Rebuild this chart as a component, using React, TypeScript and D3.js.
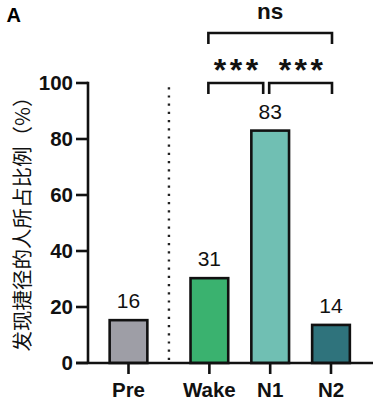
import React from "react";
import * as d3 from "d3";

const categories = ["Pre", "Wake", "N1", "N2"];
const positions = [0, 1.33, 2.33, 3.33];
const values = [15.3, 30.3, 83, 13.6];
const valueLabels = ["16", "31", "83", "14"];
const colors = ["#9e9ea6", "#3ab26f", "#70bfb3", "#2f737c"];
const yTicks = [0, 20, 40, 60, 80, 100];
const comparisons = [
  { from: 1, to: 3, label: "ns", level: 1 },
  { from: 1, to: 2, label: "***", level: 0 },
  { from: 2, to: 3, label: "***", level: 0 },
];
const yTitle = "发现捷径的人所占比例（%）";

const W = 378;
const H = 408;
const LATIN = "'Liberation Sans', Arial, Helvetica, sans-serif";

export default function App() {
  const y = d3.scaleLinear().domain([0, 100]).range([363, 83]);
  const x = d3.scaleLinear().domain([0, 3.33]).range([128.5, 331]);
  const unit = x(1) - x(0);
  const bw = unit * 0.62;
  const axisX = 88;
  const baseY = y(0);
  const sep = x((positions[0] + positions[1]) / 2);

  return (
    <svg width={W} height={H} style={{ position: "absolute", left: 0, top: 0, background: "#fff" }}>
      <text x={6.5} y={22} fontFamily={LATIN} fontWeight="bold" fontSize={20}>A</text>

      {/* y title */}
      <text
        transform={`translate(30,${(y(0) + y(100)) / 2 - 4}) rotate(-90)`}
        textAnchor="middle"
        fontFamily="'Noto Sans CJK SC', sans-serif"
        fontSize={20.5}
        fill="#111"
      >
        {yTitle}
      </text>

      {/* dotted separator */}
      <line x1={sep} x2={sep} y1={baseY - 3} y2={y(100)} stroke="#222" strokeWidth={2.4} strokeDasharray="2.2 6" />

      {/* bars */}
      {categories.map((c, i) => (
        <g key={c}>
          <rect
            x={x(positions[i]) - bw / 2}
            y={y(values[i])}
            width={bw}
            height={baseY - y(values[i])}
            fill={colors[i]}
            stroke="#111"
            strokeWidth={2.6}
          />
          <text
            x={x(positions[i])}
            y={y(values[i]) - 12}
            textAnchor="middle"
            fontFamily={LATIN}
            fontSize={21}
            fill="#111"
          >
            {valueLabels[i]}
          </text>
          <line x1={x(positions[i])} x2={x(positions[i])} y1={baseY} y2={baseY + 11} stroke="#111" strokeWidth={2.6} />
          <text
            x={x(positions[i])}
            y={397}
            textAnchor="middle"
            fontFamily={LATIN}
            fontWeight="bold"
            fontSize={20.5}
            fill="#111"
          >
            {c}
          </text>
        </g>
      ))}

      {/* y axis */}
      <line x1={axisX} x2={axisX} y1={y(100) - 1.3} y2={baseY} stroke="#111" strokeWidth={2.6} />
      {yTicks.map((t) => (
        <g key={t}>
          <line x1={axisX - 12} x2={axisX} y1={y(t)} y2={y(t)} stroke="#111" strokeWidth={2.6} />
          <text
            x={axisX - 15}
            y={y(t)}
            dy="0.36em"
            textAnchor="end"
            fontFamily={LATIN}
            fontWeight="bold"
            fontSize={20.5}
            fill="#111"
          >
            {t}
          </text>
        </g>
      ))}
      {/* x axis */}
      <line x1={axisX - 12} x2={373} y1={baseY} y2={baseY} stroke="#111" strokeWidth={2.6} />

      {/* significance brackets */}
      {comparisons.map((cmp, k) => {
        const barY = cmp.level === 1 ? 33 : 83;
        let x1 = x(positions[cmp.from]) - 1;
        let x2 = x(positions[cmp.to]) + 1;
        if (cmp.level === 0 && cmp.to === 2) x2 = x(positions[2]) - 7;
        if (cmp.level === 0 && cmp.from === 2) x1 = x(positions[2]) - 1;
        const mid = (x1 + x2) / 2;
        return (
          <g key={k}>
            <path
              d={`M${x1},${barY + 11}V${barY}H${x2}V${barY + 11}`}
              fill="none"
              stroke="#111"
              strokeWidth={2.6}
            />
            {cmp.label === "ns" ? (
              <text x={mid} y={18.5} textAnchor="middle" fontFamily={LATIN} fontWeight="bold" fontSize={22.5} fill="#111">
                {cmp.label}
              </text>
            ) : (
              <text
                x={mid + 2}
                y={barY - 2}
                textAnchor="middle"
                fontFamily={LATIN}
                fontWeight="bold"
                fontSize={32}
                letterSpacing={3.5}
                fill="#111"
              >
                {cmp.label}
              </text>
            )}
          </g>
        );
      })}
    </svg>
  );
}
